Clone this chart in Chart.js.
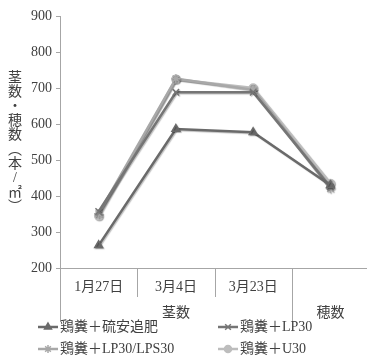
<!DOCTYPE html>
<html>
<head>
<meta charset="utf-8">
<script src="https://cdn.jsdelivr.net/npm/chart.js@4/dist/chart.umd.min.js"></script>
<style>
  html, body { margin: 0; padding: 0; background: #fff; overflow: hidden; }
  #wrap { width: 375px; height: 359px; }
</style>
</head>
<body>
<div id="wrap"><canvas id="c" width="375" height="359"></canvas></div>
<script>
// Category axis: three tiller-count dates, then the panicle count column
const dateLabels = ['1月27日', '3月4日', '3月23日', ''];
const groupLabels = ['茎数', '穂数'];
const groupSpans = [3, 1];

// Counts per m² for each fertilizer treatment
const seriesNames = ['鶏糞＋硫安追肥', '鶏糞＋LP30', '鶏糞＋LP30/LPS30', '鶏糞＋U30'];
const sulfateTopdress = [263, 586, 577, 430];
const lp30 = [357, 688, 688, 425];
const lp30Lps30 = [351, 726, 695, 420];
const u30 = [345, 724, 700, 435];

const yTicks = [200, 300, 400, 500, 600, 700, 800, 900];
const yTitleChars = ['茎', '数', '・', '穂', '数', '︵', '本', '/', '㎡', '︶'];

const FONT = '"Liberation Serif", "DejaVu Serif", "Noto Sans CJK JP", serif';
const TEXT = '#404040';
const AXIS = '#a6a6a6';

const styles = [
  { color: '#6a6a6a', pointStyle: 'triangle', radius: 4.5 },
  { color: '#757575', pointStyle: 'crossRot', radius: 4.5 },
  { color: '#a8a8a8', pointStyle: 'star', radius: 4.5 },
  { color: '#bdbdbd', pointStyle: 'circle', radius: 4 }
];
const seriesData = [sulfateTopdress, lp30, lp30Lps30, u30];

const datasets = seriesData.map((d, i) => ({
  label: seriesNames[i],
  data: d,
  borderColor: styles[i].color,
  backgroundColor: styles[i].color,
  pointBorderColor: styles[i].color,
  pointBackgroundColor: styles[i].color,
  pointStyle: styles[i].pointStyle,
  pointRadius: styles[i].radius,
  pointBorderWidth: 1.5,
  borderWidth: 2.5,
  tension: 0,
  fill: false
}));

const decorations = {
  id: 'decorations',
  beforeDatasetsDraw(chart) {
    const ctx = chart.ctx;
    ctx.save();
    ctx.shadowColor = 'rgba(0,0,0,0.25)';
    ctx.shadowOffsetX = 1;
    ctx.shadowOffsetY = 1;
    ctx.shadowBlur = 1;
  },
  afterDatasetsDraw(chart) {
    chart.ctx.restore();
  },
  afterDraw(chart) {
    const ctx = chart.ctx;
    const x = chart.scales.x;
    const area = chart.chartArea;
    const n = dateLabels.length;
    const step = x.getPixelForValue(1) - x.getPixelForValue(0);
    const edge = i => x.getPixelForValue(i) - step / 2;

    ctx.save();
    // category separators; group boundaries run down further
    ctx.strokeStyle = AXIS;
    ctx.lineWidth = 1;
    const groupStarts = [0];
    groupSpans.reduce((acc, s) => { groupStarts.push(acc + s); return acc + s; }, 0);
    for (let i = 0; i <= n; i++) {
      const px = Math.round(edge(i)) + 0.5;
      const long = groupStarts.includes(i);
      ctx.beginPath();
      ctx.moveTo(px, area.bottom);
      ctx.lineTo(px, area.bottom + (long ? 54 : 29));
      ctx.stroke();
    }

    // group labels
    ctx.fillStyle = TEXT;
    ctx.font = '14px ' + FONT;
    ctx.textAlign = 'center';
    ctx.textBaseline = 'middle';
    let start = 0;
    groupLabels.forEach((g, gi) => {
      const mid = (edge(start) + edge(start + groupSpans[gi])) / 2;
      ctx.fillText(g, mid, area.bottom + 45);
      start += groupSpans[gi];
    });

    // vertical axis title
    ctx.font = '14px ' + FONT;
    yTitleChars.forEach((ch, i) => {
      ctx.fillText(ch, 15, 78 + i * 14.4);
    });

    // legend
    const legendPos = [[38, 327], [218, 327], [38, 349], [218, 349]];
    ctx.textAlign = 'left';
    ctx.font = '14px ' + FONT;
    datasets.forEach((ds, i) => {
      const [lx, ly] = legendPos[i];
      ctx.strokeStyle = styles[i].color;
      ctx.lineWidth = 2.5;
      ctx.beginPath();
      ctx.moveTo(lx, ly);
      ctx.lineTo(lx + 20, ly);
      ctx.stroke();
      ctx.fillStyle = styles[i].color;
      ctx.strokeStyle = styles[i].color;
      ctx.lineWidth = 1.5;
      Chart.helpers.drawPoint(ctx, {
        pointStyle: styles[i].pointStyle,
        radius: styles[i].radius - 0.5,
        rotation: 0,
        borderWidth: 1.5
      }, lx + 10, ly);
      ctx.fillStyle = TEXT;
      ctx.fillText(ds.label, lx + 22, ly);
    });
    ctx.restore();
  }
};

new Chart(document.getElementById('c'), {
  type: 'line',
  data: { labels: dateLabels, datasets },
  options: {
    responsive: false,
    animation: false,
    layout: { padding: { top: 16, left: 0, right: 0, bottom: 0 } },
    plugins: { legend: { display: false }, tooltip: { enabled: false } },
    scales: {
      x: {
        offset: true,
        grid: { display: false },
        border: { color: AXIS, width: 1 },
        ticks: {
          color: TEXT,
          font: { size: 14, family: FONT },
          padding: 3,
          maxRotation: 0,
          autoSkip: false
        },
        afterFit(scale) { scale.height = 91; }
      },
      y: {
        min: yTicks[0],
        max: yTicks[yTicks.length - 1],
        afterBuildTicks(scale) { scale.ticks = yTicks.map(v => ({ value: v })); },
        grid: { drawOnChartArea: false, drawTicks: true, tickLength: 4, color: AXIS },
        border: { color: AXIS, width: 1 },
        ticks: {
          color: TEXT,
          font: { size: 14, family: FONT },
          padding: 4
        },
        afterFit(scale) { scale.width = 60; }
      }
    }
  },
  plugins: [decorations]
});
</script>
</body>
</html>
